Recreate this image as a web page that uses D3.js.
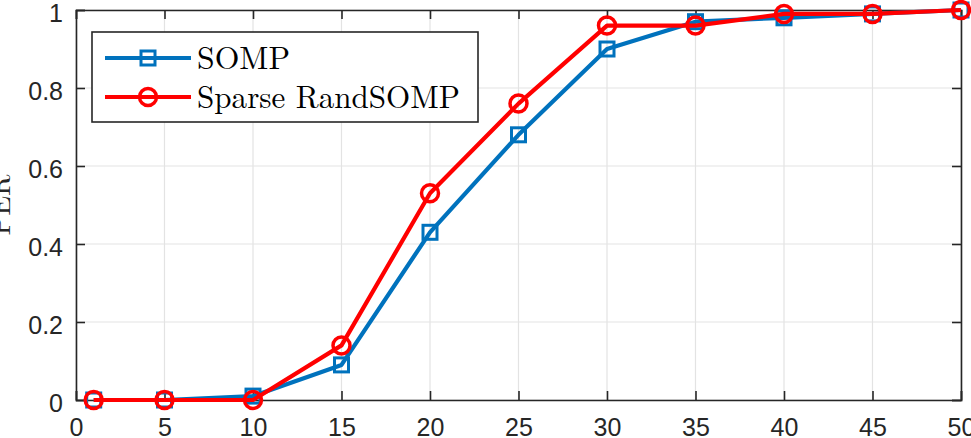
<!DOCTYPE html>
<html><head><meta charset="utf-8">
<script src="https://cdn.jsdelivr.net/npm/d3@7"></script>
<style>body{margin:0;background:#fff}svg{display:block}</style>
</head><body>
<svg id="c" width="971" height="438"></svg>
<script>
const xValues = [1, 5, 10, 15, 20, 25, 30, 35, 40, 45, 50];
const sompValues = [0, 0, 0.01, 0.09, 0.43, 0.68, 0.90, 0.97, 0.98, 0.99, 1.0];
const randValues = [0, 0, 0, 0.14, 0.53, 0.76, 0.96, 0.96, 0.99, 0.99, 1.0];
const xTicks = [0, 5, 10, 15, 20, 25, 30, 35, 40, 45, 50];
const yTicks = [0, 0.2, 0.4, 0.6, 0.8, 1];
const seriesNames = ["SOMP", "Sparse RandSOMP"];
const yLabel = "PER";

const svg = d3.select("#c");
const L = 76, R = 961, T = 10, B = 400;
const x = d3.scaleLinear().domain([0, 50]).range([L, R]);
const y = d3.scaleLinear().domain([0, 1]).range([B, T]);
const axisColor = "#262626";

// grid
const g = svg.append("g");
g.selectAll(".gx").data(xTicks).enter().append("line")
  .attr("x1", d => x(d)).attr("x2", d => x(d)).attr("y1", T).attr("y2", B)
  .attr("stroke", "#e3e3e3").attr("stroke-width", 1.2);
g.selectAll(".gy").data(yTicks).enter().append("line")
  .attr("y1", d => y(d)).attr("y2", d => y(d)).attr("x1", L).attr("x2", R)
  .attr("stroke", "#e3e3e3").attr("stroke-width", 1.2);

// axes
const tickLen = 9;
const fmt = d => d3.format("~g")(d);
const ax = svg.append("g").attr("transform", `translate(0,${B})`)
  .call(d3.axisBottom(x).tickValues(xTicks).tickSize(-tickLen).tickFormat(fmt));
const axT = svg.append("g").attr("transform", `translate(0,${T})`)
  .call(d3.axisTop(x).tickValues(xTicks).tickSize(-tickLen).tickFormat(""));
const ay = svg.append("g").attr("transform", `translate(${L},0)`)
  .call(d3.axisLeft(y).tickValues(yTicks).tickSize(-tickLen).tickFormat(fmt));
const ayR = svg.append("g").attr("transform", `translate(${R},0)`)
  .call(d3.axisRight(y).tickValues(yTicks).tickSize(-tickLen).tickFormat(""));
[ax, axT, ay, ayR].forEach(a => {
  a.select(".domain").attr("stroke", axisColor).attr("stroke-width", 1.6);
  a.selectAll(".tick line").attr("stroke", axisColor).attr("stroke-width", 1.6);
  a.selectAll(".tick text").attr("fill", axisColor)
    .style("font-family", "'Liberation Sans', Arial, sans-serif").style("font-size", "25px");
});
ax.selectAll(".tick text").attr("y", 18).attr("dy", "0.72em");
ay.selectAll(".tick text").attr("x", -13).attr("dy", "0.45em");

// y label
svg.append("text").attr("transform", `translate(10,205) rotate(-90)`)
  .attr("text-anchor", "middle")
  .style("font-family", "'Latin Modern Roman','Liberation Serif', serif").style("font-size", "29px")
  .attr("fill", axisColor).text(yLabel);

const blue = "#0072BD", red = "#FF0000";
const line = d3.line().x((d, i) => x(xValues[i])).y(d => y(d));
const series = [{vals: sompValues, color: blue, marker: "square"}, {vals: randValues, color: red, marker: "circle"}];

series.forEach(s => {
  svg.append("path").datum(s.vals).attr("d", line)
    .attr("fill", "none").attr("stroke", s.color).attr("stroke-width", 4.2).attr("stroke-linejoin", "round");
  if (s.marker === "square") {
    svg.selectAll(null).data(s.vals).enter().append("rect")
      .attr("x", (d, i) => x(xValues[i]) - 7).attr("y", d => y(d) - 7)
      .attr("width", 14).attr("height", 14)
      .attr("fill", "none").attr("stroke", s.color).attr("stroke-width", 3);
  } else {
    svg.selectAll(null).data(s.vals).enter().append("circle")
      .attr("cx", (d, i) => x(xValues[i])).attr("cy", d => y(d)).attr("r", 8.5)
      .attr("fill", "none").attr("stroke", s.color).attr("stroke-width", 3.5);
  }
});

// legend
const lg = svg.append("g");
lg.append("rect").attr("x", 92).attr("y", 32).attr("width", 386).attr("height", 90)
  .attr("fill", "#fff").attr("stroke", axisColor).attr("stroke-width", 1.6);
const rowsY = [58, 97];
const textW = [93, 263];
series.forEach((s, i) => {
  const yy = rowsY[i];
  lg.append("line").attr("x1", 105).attr("x2", 191).attr("y1", yy).attr("y2", yy)
    .attr("stroke", s.color).attr("stroke-width", 4.2);
  if (s.marker === "square") {
    lg.append("rect").attr("x", 141).attr("y", yy - 7).attr("width", 14).attr("height", 14)
      .attr("fill", "none").attr("stroke", s.color).attr("stroke-width", 3);
  } else {
    lg.append("circle").attr("cx", 148).attr("cy", yy).attr("r", 8.5)
      .attr("fill", "none").attr("stroke", s.color).attr("stroke-width", 3.5);
  }
  lg.append("text").attr("x", 197).attr("y", yy + 11)
    .attr("textLength", textW[i]).attr("lengthAdjust", "spacingAndGlyphs")
    .style("font-family", "'Latin Modern Roman','Liberation Serif', serif").style("font-size", "32px")
    .attr("fill", "#000").text(seriesNames[i]);
});
</script>
</body></html>
